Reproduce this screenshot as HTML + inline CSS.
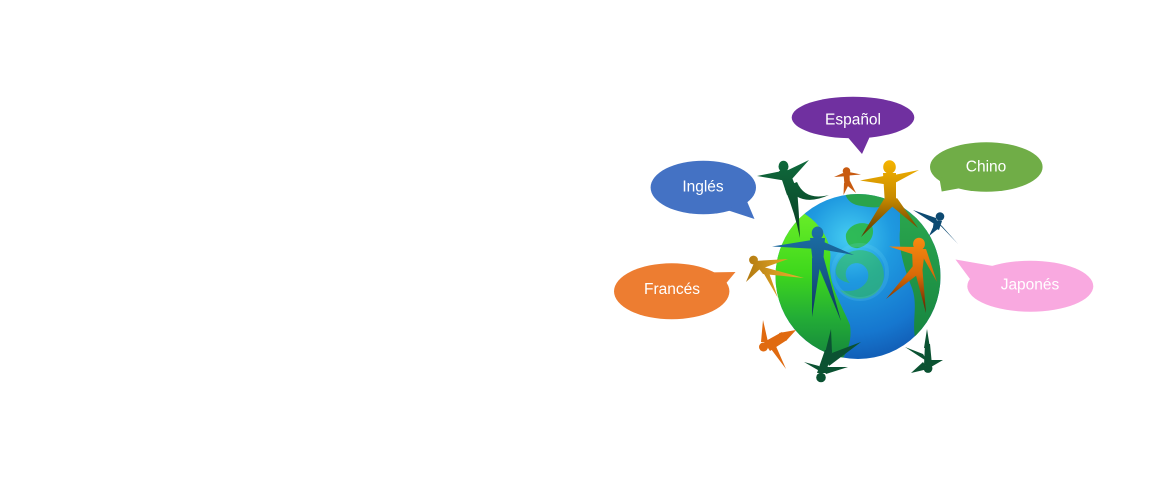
<!DOCTYPE html>
<html>
<head>
<meta charset="utf-8">
<style>
  html, body { margin: 0; padding: 0; background: #ffffff; }
  body { width: 1160px; height: 479px; overflow: hidden; }
  svg { display: block; }
  .lbl { font-family: "Liberation Sans", sans-serif; font-size: 15.5px; fill: #ffffff; text-anchor: middle; }
</style>
</head>
<body>
<svg width="1160" height="479" viewBox="0 0 1160 479" xmlns="http://www.w3.org/2000/svg">
  <defs>
    <radialGradient id="ocean" cx="850" cy="238" r="120" gradientUnits="userSpaceOnUse">
      <stop offset="0" stop-color="#45cdf2"/>
      <stop offset="0.35" stop-color="#1f9ae0"/>
      <stop offset="0.8" stop-color="#1677cf"/>
      <stop offset="1" stop-color="#1260b8"/>
    </radialGradient>
    <linearGradient id="lime" x1="0" y1="205" x2="0" y2="355" gradientUnits="userSpaceOnUse">
      <stop offset="0" stop-color="#6ef02a"/>
      <stop offset="0.45" stop-color="#3fd81c"/>
      <stop offset="0.75" stop-color="#23ad36"/>
      <stop offset="1" stop-color="#178a3c"/>
    </linearGradient>
    <linearGradient id="rgreen" x1="0" y1="210" x2="0" y2="340" gradientUnits="userSpaceOnUse">
      <stop offset="0" stop-color="#2aa64e"/>
      <stop offset="1" stop-color="#178540"/>
    </linearGradient>
    <linearGradient id="gold" x1="0" y1="160" x2="0" y2="236" gradientUnits="userSpaceOnUse">
      <stop offset="0" stop-color="#f5b400"/>
      <stop offset="0.5" stop-color="#c88a00"/>
      <stop offset="1" stop-color="#5a3600"/>
    </linearGradient>
    <linearGradient id="gold2" x1="745" y1="0" x2="805" y2="0" gradientUnits="userSpaceOnUse">
      <stop offset="0" stop-color="#b07810"/>
      <stop offset="0.5" stop-color="#d49a20"/>
      <stop offset="1" stop-color="#e8b030"/>
    </linearGradient>
    <linearGradient id="orng" x1="0" y1="238" x2="0" y2="312" gradientUnits="userSpaceOnUse">
      <stop offset="0" stop-color="#f88a10"/>
      <stop offset="0.5" stop-color="#d86a08"/>
      <stop offset="1" stop-color="#5a2200"/>
    </linearGradient>
    <linearGradient id="blueman" x1="0" y1="227" x2="0" y2="320" gradientUnits="userSpaceOnUse">
      <stop offset="0" stop-color="#1c6fa8"/>
      <stop offset="0.5" stop-color="#165a8a"/>
      <stop offset="1" stop-color="#0c3458"/>
    </linearGradient>
    <linearGradient id="dgreen" x1="0" y1="160" x2="0" y2="236" gradientUnits="userSpaceOnUse">
      <stop offset="0" stop-color="#0f6a3c"/>
      <stop offset="1" stop-color="#093e24"/>
    </linearGradient>
    <clipPath id="gclip"><circle cx="858" cy="276.5" r="82.5"/></clipPath>
  </defs>

  <!-- Speech bubbles -->
  <g>
    <ellipse cx="853" cy="117.5" rx="61.3" ry="20.8" fill="#7030a0"/>
    <polygon points="845,134 871,134 862,154" fill="#7030a0"/>
    <text class="lbl" x="853" y="124.5">Español</text>
  </g>
  <g>
    <ellipse cx="986.3" cy="167" rx="56.3" ry="24.7" fill="#70ad47"/>
    <polygon points="939,176 961,188 941.7,191.5" fill="#70ad47"/>
    <text class="lbl" x="986" y="171.5">Chino</text>
  </g>
  <g>
    <ellipse cx="703.3" cy="187.5" rx="52.7" ry="26.8" fill="#4472c4"/>
    <polygon points="727,210 746,199 754.5,219" fill="#4472c4"/>
    <text class="lbl" x="703" y="191.5">Inglés</text>
  </g>
  <g>
    <ellipse cx="671.7" cy="291.3" rx="57.7" ry="28" fill="#ed7d31"/>
    <polygon points="704,272.5 735.5,272 723,287" fill="#ed7d31"/>
    <text class="lbl" x="672" y="294">Francés</text>
  </g>
  <g>
    <ellipse cx="1030.3" cy="286.2" rx="63" ry="25.5" fill="#f9a9e0"/>
    <polygon points="955.5,259.5 993,266 970,279" fill="#f9a9e0"/>
    <text class="lbl" x="1030" y="289.5">Japonés</text>
  </g>

  <!-- Globe -->
  <circle cx="858" cy="276.5" r="82.5" fill="url(#ocean)"/>
  <g clip-path="url(#gclip)">
    <path d="M770,200 C790,205 805,212 815,222 C826,234 832,246 830,262 C828,285 842,305 850,325 C852,340 848,352 840,362 L760,362 Z" fill="url(#lime)"/>
    <path d="M845,192 C860,190 880,193 895,200 C888,209 872,208 862,206 C852,205 846,200 845,192 Z" fill="#2aa34c"/>
    <path d="M846,234 C850,224 862,220 872,226 C876,236 868,246 858,248 C850,249 845,242 846,234 Z" fill="#2cb846" opacity="0.9"/>
    <path d="M836,268 C840,252 858,246 872,253 C886,262 888,282 876,293 C866,302 848,300 840,290 C850,293 862,290 867,281 C872,270 862,260 852,264 C844,268 844,278 850,283 C840,281 834,276 836,268 Z" fill="#34c04a" opacity="0.55"/>
    <circle cx="860" cy="272" r="27" fill="none" stroke="#6fd8f5" stroke-width="4" opacity="0.18"/>
    <path d="M900,205 C912,215 925,222 935,238 C944,255 946,285 942,305 C936,322 926,332 915,338 C912,320 918,305 912,288 C904,268 898,248 900,230 Z" fill="url(#rgreen)"/>
  </g>

  <!-- Figure 1: dark green top-left -->
  <g fill="url(#dgreen)">
    <ellipse cx="783.5" cy="166.5" rx="5" ry="5.8"/>
    <polygon points="779,171 789,170 797,190 787,195"/>
    <polygon points="782,171 787,181 757,176"/>
    <polygon points="784,172 792,179 809,160"/>
    <path d="M787,186 Q800,208 829,195 Q805,201 797,182 Z"/>
    <path d="M785,189 Q795,213 800,238 Q799,212 797,187 Z"/>
  </g>

  <!-- Figure 2: small orange top -->
  <g fill="#c85a10">
    <circle cx="846.5" cy="171" r="3.8"/>
    <polygon points="843,173 850,176 834,177"/>
    <polygon points="843,176 849,172 861,174.5"/>
    <polygon points="843.5,174 849.5,174 850,185 844.5,185"/>
    <polygon points="844,183 849,184 843.5,195"/>
    <polygon points="845.5,184 850,181 856,193"/>
  </g>

  <!-- Figure 3: gold top -->
  <g fill="url(#gold)">
    <ellipse cx="889.5" cy="167" rx="6.3" ry="6.8"/>
    <polygon points="889,175 890,185 860,180.5"/>
    <polygon points="889,176 893,184 919,170"/>
    <polygon points="883,173 896,173 896,205 885,205"/>
    <polygon points="884,199 894,205 861,237"/>
    <polygon points="888,203 897,198 918,228"/>
  </g>

  <!-- Figure 4: dark blue right -->
  <g fill="#0d4a72">
    <circle cx="940" cy="216.5" r="4.3"/>
    <polygon points="936,218 939,227 913,210"/>
    <polygon points="934,220 942,221 939,230 933,227"/>
    <polygon points="934,225 939,228 929,236"/>
    <polygon points="936,221 942,226 958,244"/>
  </g>

  <!-- Figure 5: big blue center-left -->
  <g fill="url(#blueman)">
    <ellipse cx="817.5" cy="233" rx="5.8" ry="6.5"/>
    <polygon points="818,239 818,249 772,246.5"/>
    <polygon points="817,239 819,249 854,255"/>
    <polygon points="810,238 825,238 823,264 813,264"/>
    <polygon points="812,258 821,260 812,317"/>
    <polygon points="815,258 823,255 841,321"/>
  </g>

  <!-- Figure 6: small gold left -->
  <g fill="url(#gold2)">
    <circle cx="753.5" cy="260" r="4.4"/>
    <polygon points="754,261 758,270 788,259"/>
    <polygon points="756,265 763,274 804,278"/>
    <polygon points="754,263 761,268 746,282"/>
    <polygon points="760,267 768,270 778,298"/>
  </g>

  <!-- Figure 7: orange on globe right -->
  <g fill="url(#orng)">
    <ellipse cx="919" cy="244" rx="5.9" ry="6.3"/>
    <polygon points="917,247 918,256 889,246.5"/>
    <polygon points="912,249 925,249 922,274 913,274"/>
    <polygon points="919,250 926,249 937,282"/>
    <polygon points="913,266 921,272 886,299"/>
    <polygon points="914,268 922,264 926,313"/>
  </g>

  <!-- Figure 8: orange bottom-left -->
  <g fill="#e06a10">
    <circle cx="763.5" cy="347" r="4.5"/>
    <polygon points="764,342 770,351 787,340 782,332"/>
    <polygon points="761,342 768,342 763,320"/>
    <polygon points="779,333 786,341 796,330"/>
    <polygon points="768,345 775,344 786,369"/>
  </g>

  <!-- Figure 9: dark green bottom center -->
  <g fill="#0b5232">
    <circle cx="821" cy="377.5" r="4.8"/>
    <polygon points="817,373 826,373 832,350 825,350"/>
    <polygon points="825,353 832,353 831,329"/>
    <polygon points="824,356 829,366 861,342"/>
    <polygon points="819,366 823,373 804,362"/>
    <polygon points="822,367 826,374 848,367"/>
  </g>

  <!-- Figure 10: dark green bottom right -->
  <g fill="#0b5232">
    <circle cx="928" cy="368.5" r="4.4"/>
    <polygon points="924,365 932,365 930,344 925,344"/>
    <polygon points="924,348 930,348 927,329"/>
    <polygon points="923,354 928,362 905,347"/>
    <polygon points="927,360 931,367 943,360"/>
    <polygon points="923,362 928,369 911,373"/>
  </g>
</svg>
</body>
</html>
